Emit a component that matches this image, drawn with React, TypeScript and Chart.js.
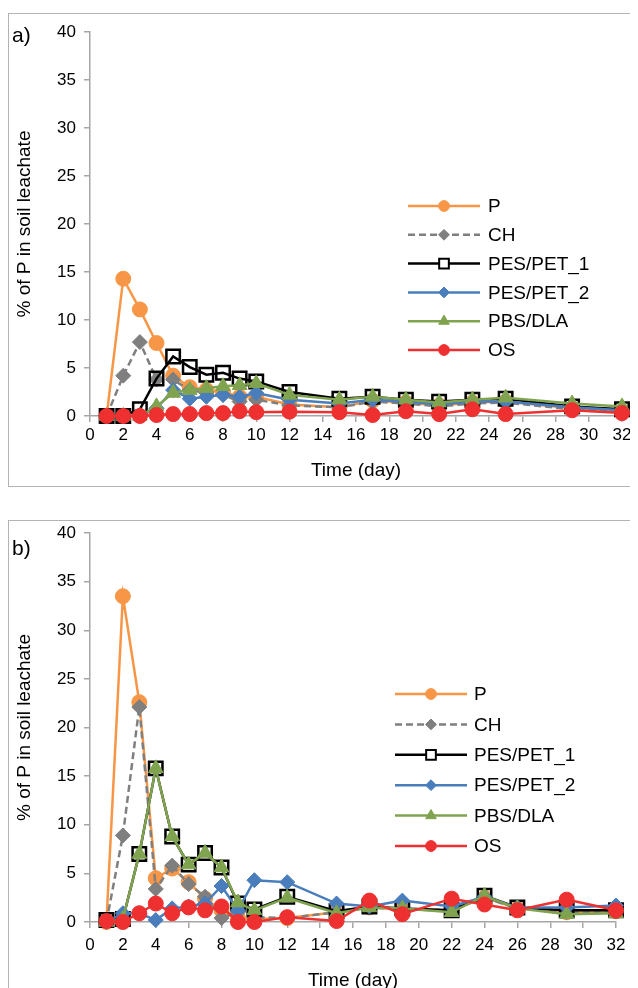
import React, { useEffect, useRef } from 'react';
import { Chart, registerables } from 'chart.js';
import { drawPoint } from 'chart.js/helpers';

Chart.register(...registerables);

// ---------- DATA ----------
const SERIES_NAMES = ['P', 'CH', 'PES/PET_1', 'PES/PET_2', 'PBS/DLA', 'OS'];

const DAYS_A = [1, 2, 3, 4, 5, 6, 7, 8, 9, 10, 12, 15, 17, 19, 21, 23, 25, 29, 32];
const P_A = [0, 14.3, 11.1, 7.6, 4.2, 3.0, 2.7, 2.5, 2.0, 2.0, 1.2, 0.9, 1.6, 1.4, 1.1, 1.4, 1.5, 0.8, 0.5];
const CH_A = [0, 4.2, 7.7, 3.8, 3.8, 2.7, 2.4, 2.2, 1.5, 1.7, 1.1, 0.9, 1.5, 1.3, 1.0, 1.3, 1.4, 0.7, 0.5];
const PES1_A = [0, 0, 0.7, 3.9, 6.2, 5.1, 4.3, 4.5, 3.9, 3.6, 2.5, 1.8, 2.0, 1.7, 1.5, 1.7, 1.8, 1.0, 0.7];
const PES2_A = [0, 0, 0, 0.8, 2.7, 1.8, 2.0, 2.2, 2.0, 2.4, 1.7, 1.3, 1.7, 1.5, 1.2, 1.5, 1.5, 0.9, 0.6];
const PBS_A = [0, 0, 0, 1.0, 2.4, 2.7, 2.9, 3.1, 3.2, 3.4, 2.2, 1.7, 2.0, 1.7, 1.4, 1.7, 1.9, 1.3, 1.0];
const OS_A = [0, 0, 0, 0.1, 0.2, 0.2, 0.3, 0.3, 0.5, 0.4, 0.45, 0.4, 0.1, 0.5, 0.2, 0.7, 0.2, 0.6, 0.3];

const DAYS_B = [1, 2, 3, 4, 5, 6, 7, 8, 9, 10, 12, 15, 17, 19, 22, 24, 26, 29, 32];
const P_B = [0, 33.5, 22.6, 4.5, 5.5, 4.1, 2.4, 1.2, 0.4, 0.3, 0.4, 1.0, 1.5, 1.3, 1.2, 2.5, 1.4, 1.0, 1.1];
const CH_B = [0, 8.9, 22.1, 3.4, 5.8, 3.9, 2.6, 0.4, 1.0, 0.5, 0.4, 1.0, 1.5, 1.3, 1.2, 2.5, 1.4, 1.0, 1.1];
const PES1_B = [0.2, 0.3, 7.0, 15.8, 8.8, 5.9, 7.1, 5.6, 1.9, 1.3, 2.6, 1.1, 1.6, 1.4, 1.2, 2.7, 1.5, 1.2, 1.2];
const PES2_B = [0, 0.9, 0.9, 0.2, 1.4, 1.6, 1.9, 3.7, 1.2, 4.3, 4.1, 1.9, 1.6, 2.2, 1.6, 2.6, 1.5, 1.5, 1.7];
const PBS_B = [0, 0.3, 7.0, 15.8, 8.8, 5.9, 7.1, 5.6, 2.0, 1.2, 2.5, 0.9, 1.5, 1.4, 1.0, 2.7, 1.4, 0.8, 0.9];
const OS_B = [0.1, 0, 0.9, 1.9, 0.9, 1.5, 1.2, 1.6, 0, 0, 0.5, 0.1, 2.2, 0.8, 2.4, 1.8, 1.2, 2.3, 1.2];

const X_MIN = 0;
const X_MAX = 32;
const X_STEP = 2;
const Y_MIN = 0;
const Y_MAX = 40;
const Y_STEP = 5;

const X_TITLE = 'Time (day)';
const Y_TITLE = '% of P in soil leachate';

// ---------- STYLES ----------
const FONT = '"Liberation Sans", Arial, Helvetica, sans-serif';
const AXIS = '#a6a6a6';

const STYLES = [
  { color: '#F79646', fill: '#F79646', pointStyle: 'circle', radius: 7.5, dash: [] as number[], bw: 1 },
  { color: '#7F7F7F', fill: '#7F7F7F', pointStyle: 'rectRot', radius: 7.5, dash: [7, 4], bw: 1 },
  { color: '#000000', fill: 'rgba(0,0,0,0)', pointStyle: 'rect', radius: 9.5, dash: [] as number[], bw: 2.5 },
  { color: '#4A7DBB', fill: '#4A7DBB', pointStyle: 'rectRot', radius: 7.5, dash: [] as number[], bw: 1 },
  { color: '#80A350', fill: '#80A350', pointStyle: 'triangle', radius: 8.5, dash: [] as number[], bw: 1 },
  { color: '#EE3030', fill: '#EE3030', pointStyle: 'circle', radius: 7.5, dash: [] as number[], bw: 1 },
];

const legendPlugin = {
  id: 'excelLegend',
  afterDraw(chart: any, _args: any, opts: any) {
    const ctx = chart.ctx;
    ctx.save();
    chart.data.datasets.forEach((ds: any, i: number) => {
      const st = STYLES[i];
      const y = opts.y + i * opts.gap;
      ctx.beginPath();
      ctx.setLineDash(st.dash);
      ctx.strokeStyle = st.color;
      ctx.lineWidth = 2.5;
      ctx.moveTo(opts.x, y);
      ctx.lineTo(opts.x + opts.lineLen, y);
      ctx.stroke();
      ctx.setLineDash([]);
      ctx.fillStyle = st.pointStyle === 'rect' ? '#ffffff' : st.fill;
      ctx.strokeStyle = st.color;
      ctx.lineWidth = st.pointStyle === 'rect' ? 2 : 1;
      drawPoint(ctx, { pointStyle: st.pointStyle, rotation: 0, radius: st.radius * 0.72, borderWidth: ctx.lineWidth }, opts.x + opts.lineLen / 2, y);
      ctx.fillStyle = '#000';
      ctx.font = `19px ${FONT}`;
      ctx.textBaseline = 'middle';
      ctx.textAlign = 'left';
      ctx.fillText(ds.label, opts.x + opts.lineLen + opts.textGap, y + 1);
    });
    ctx.restore();
  },
};

function makeDatasets(days: number[], series: number[][]) {
  return series.map((vals, i) => {
    const st = STYLES[i];
    return {
      label: SERIES_NAMES[i],
      data: days.map((d, k) => ({ x: d, y: vals[k] })),
      borderColor: st.color,
      backgroundColor: st.fill,
      borderWidth: 2.5,
      borderDash: st.dash,
      pointStyle: st.pointStyle,
      pointRadius: st.radius,
      pointBackgroundColor: st.fill,
      pointBorderColor: st.color,
      pointBorderWidth: st.bw,
      tension: 0,
      order: 5 - i,
      clip: false,
    };
  });
}

type PanelProps = {
  days: number[];
  series: number[][];
  label: string;
  padTop: number;
  padRight: number;
  xHeight: number;
  tickPad: number;
  titlePad: number;
  legend: { x: number; y: number; gap: number; lineLen: number; textGap: number };
  marginTop: number;
  labelTop: number;
};

const W = 629;
const H = 472;

function Panel(p: PanelProps) {
  const ref = useRef<HTMLCanvasElement>(null);
  useEffect(() => {
    if (!ref.current) return;
    const tickFont = { family: FONT, size: 17 };
    const titleFont = { family: FONT, size: 19 };
    const chart = new Chart(ref.current, {
      type: 'line',
      data: { datasets: makeDatasets(p.days, p.series) as any },
      options: {
        animation: false,
        responsive: false,
        devicePixelRatio: 1,
        layout: { padding: { top: p.padTop, right: p.padRight, bottom: 0, left: 0 } },
        plugins: {
          legend: { display: false },
          tooltip: { enabled: false },
          excelLegend: p.legend,
        } as any,
        scales: {
          x: {
            type: 'linear',
            min: X_MIN,
            max: X_MAX,
            ticks: { stepSize: X_STEP, color: '#000', font: tickFont, padding: p.tickPad, maxRotation: 0, autoSkip: false },
            grid: { drawOnChartArea: false, drawTicks: true, tickLength: 6, color: AXIS, lineWidth: 1.5 },
            border: { color: AXIS, width: 1.5 },
            title: { display: true, text: X_TITLE, color: '#000', font: titleFont, padding: { top: 0, bottom: p.titlePad } },
            afterFit: (s: any) => {
              s.height = p.xHeight;
              s.paddingLeft = 0;
              s.paddingRight = 0;
            },
          },
          y: {
            type: 'linear',
            min: Y_MIN,
            max: Y_MAX,
            ticks: { stepSize: Y_STEP, color: '#000', font: tickFont, padding: 8 },
            grid: { drawOnChartArea: false, drawTicks: true, tickLength: 6, color: AXIS, lineWidth: 1.5 },
            border: { color: AXIS, width: 1.5 },
            title: { display: true, text: Y_TITLE, color: '#000', font: titleFont, padding: { top: 4, bottom: 0 } },
            afterFit: (s: any) => {
              s.width = 81;
              s.paddingTop = 0;
              s.paddingBottom = 0;
            },
          },
        },
      } as any,
      plugins: [legendPlugin],
    });
    return () => chart.destroy();
  }, []);
  return (
    <div
      style={{
        position: 'relative',
        marginTop: p.marginTop,
        width: 630,
        height: 474,
        border: '1px solid #b3b3b3',
        borderRight: 'none',
        boxSizing: 'border-box',
      }}
    >
      <canvas ref={ref} width={W} height={H} style={{ display: 'block', width: W, height: H }} />
      <span
        style={{
          position: 'absolute',
          left: 3,
          top: p.labelTop,
          fontFamily: FONT,
          fontSize: 21,
          lineHeight: '21px',
          color: '#000',
        }}
      >
        {p.label}
      </span>
    </div>
  );
}

export default function App() {
  return (
    <div style={{ paddingTop: 5 }}>
      <style>{'html,body{overflow:hidden}'}</style>
      <Panel
        days={DAYS_A}
        series={[P_A, CH_A, PES1_A, PES2_A, PBS_A, OS_A]}
        label="a)"
        padTop={18}
        padRight={16}
        xHeight={70}
        tickPad={3}
        titlePad={4}
        legend={{ x: 399, y: 192, gap: 28.8, lineLen: 72, textGap: 8 }}
        marginTop={0}
        labelTop={10}
      />
      <Panel
        days={DAYS_B}
        series={[P_B, CH_B, PES1_B, PES2_B, PBS_B, OS_B]}
        label="b)"
        padTop={7}
        padRight={22}
        xHeight={71}
        tickPad={7}
        titlePad={1}
        legend={{ x: 386, y: 173, gap: 30.4, lineLen: 72, textGap: 7 }}
        marginTop={33}
        labelTop={16}
      />
    </div>
  );
}
